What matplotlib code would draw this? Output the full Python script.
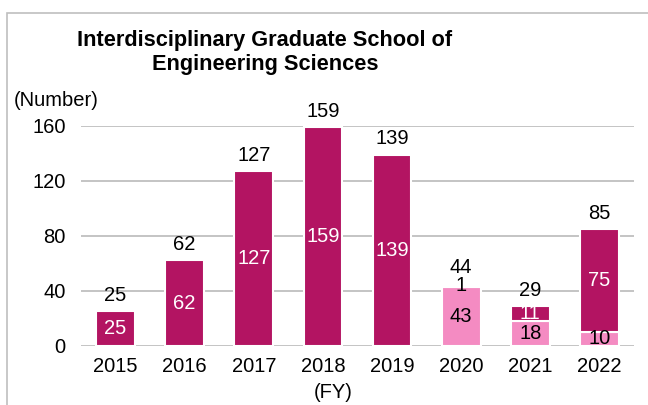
import matplotlib
matplotlib.use("Agg")
import matplotlib.pyplot as plt
import numpy as np
from matplotlib.patches import Rectangle

plt.rcParams['font.family'] = ['Liberation Sans', 'DejaVu Sans']

years = ["2015", "2016", "2017", "2018", "2019", "2020", "2021", "2022"]
light = [0, 0, 0, 0, 0, 43, 18, 10]
dark = [25, 62, 127, 159, 139, 1, 11, 75]
totals = [25, 62, 127, 159, 139, 44, 29, 85]
yticks = [0, 40, 80, 120, 160]

DARK = "#B31462"
LIGHT = "#F48BC2"

W, H = 648, 405
fig = plt.figure(figsize=(W / 100, H / 100), dpi=100)

def fx(px):
    return px / W

def fy(py):
    return 1 - py / H

# border
fig.add_artist(Rectangle((fx(6.5), fy(H + 5)), fx(W + 10), (H - 12.5 + 5) / H,
                         transform=fig.transFigure, fill=False,
                         edgecolor="#BFBFBF", linewidth=1.2))

ax = fig.add_axes([fx(81), fy(345.7), fx(634 - 81), (345.7 - 125.7) / H])
ax.set_xlim(-0.5, len(years) - 0.5)
ax.set_ylim(0, 160)

x = np.arange(len(years))
ax.set_yticks(yticks)
ax.yaxis.grid(True, color="#BFBFBF", linewidth=1.3)
ax.set_axisbelow(True)
for s in ax.spines.values():
    s.set_visible(False)
ax.tick_params(axis="both", length=0, labelsize=14.5, colors="black")
ax.tick_params(axis="y", pad=11)
ax.tick_params(axis="x", pad=8)
ax.set_xticks(x)
ax.set_xticklabels(years)

bw = 0.56
ax.bar(x, light, bw, color=LIGHT, edgecolor="white", linewidth=1.5, zorder=2)
ax.bar(x, dark, bw, bottom=light, color=DARK, edgecolor="white", linewidth=1.5, zorder=2)

fs = 14.5
for i in range(len(years)):
    if light[i] > 0:
        ax.text(x[i], light[i] / 2, str(light[i]), ha="center", va="center",
                fontsize=fs, color="black", zorder=3)
    if dark[i] > 0:
        small = dark[i] < 5
        col = "black" if small else "white"
        ax.text(x[i], light[i] + dark[i] / 2, str(dark[i]), ha="center",
                va="center", fontsize=fs, color=col, zorder=3)
    ax.text(x[i], totals[i] + 4.5 + (1.5 if dark[i] < 5 else 0), str(totals[i]),
            ha="center", va="bottom", fontsize=fs, color="black", zorder=3)

fig.text(fx(265), fy(52.5), "Interdisciplinary Graduate School of\nEngineering Sciences",
         ha="center", va="center", fontsize=15.7, fontweight="bold", linespacing=1.15)
fig.text(fx(14), fy(100), "(Number)", ha="left", va="center", fontsize=14.5)
fig.text(fx(333), fy(392), "(FY)", ha="center", va="center", fontsize=14.5)

fig.savefig("out.png", dpi=100)
